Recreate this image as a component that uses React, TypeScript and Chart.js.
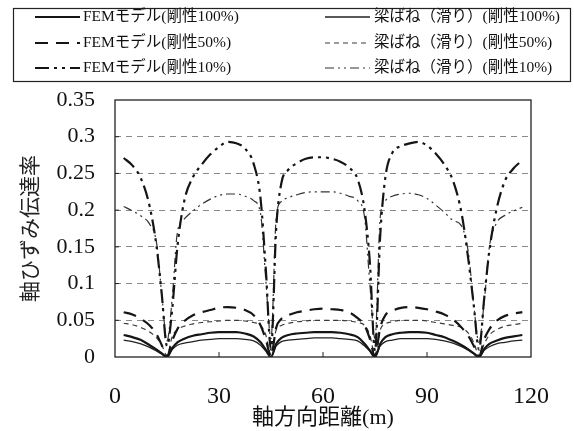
import { useEffect, useRef } from "react";
import { Chart, registerables } from "chart.js";

Chart.register(...registerables);

// axial distance (m)
const distance = [2.5, 5, 7.5, 10, 12, 13.5, 15, 16.5, 18, 20, 22.5, 25, 27.5, 30, 32.5, 35, 37.5, 40, 42, 43.5, 45, 46.5, 48, 50, 52.5, 55, 57.5, 60, 62.5, 65, 67.5, 70, 72, 73.5, 75, 76.5, 78, 80, 82.5, 85, 87.5, 90, 92.5, 95, 97.5, 100, 102, 103.5, 105, 106.5, 108, 110, 112.5, 115, 117.5];

const fem100 = [0.030, 0.027, 0.023, 0.016, 0.010, 0.005, 0.000, 0.012, 0.020, 0.025, 0.029, 0.031, 0.033, 0.034, 0.034, 0.034, 0.032, 0.028, 0.020, 0.010, 0.000, 0.018, 0.026, 0.030, 0.032, 0.033, 0.034, 0.034, 0.034, 0.033, 0.031, 0.027, 0.018, 0.009, 0.000, 0.018, 0.027, 0.031, 0.033, 0.034, 0.034, 0.033, 0.030, 0.027, 0.022, 0.016, 0.010, 0.005, 0.000, 0.011, 0.018, 0.022, 0.026, 0.028, 0.030];
const fem50 = [0.061, 0.058, 0.052, 0.043, 0.031, 0.016, 0.001, 0.022, 0.038, 0.049, 0.057, 0.061, 0.064, 0.067, 0.068, 0.067, 0.064, 0.057, 0.043, 0.024, 0.001, 0.040, 0.052, 0.057, 0.061, 0.063, 0.065, 0.066, 0.065, 0.064, 0.061, 0.053, 0.043, 0.025, 0.001, 0.040, 0.057, 0.063, 0.067, 0.068, 0.067, 0.065, 0.062, 0.058, 0.051, 0.040, 0.028, 0.015, 0.001, 0.024, 0.038, 0.049, 0.056, 0.059, 0.061];
const fem10 = [0.271, 0.261, 0.243, 0.205, 0.150, 0.085, 0.015, 0.065, 0.150, 0.213, 0.245, 0.262, 0.276, 0.286, 0.293, 0.291, 0.284, 0.263, 0.215, 0.120, 0.010, 0.175, 0.237, 0.255, 0.264, 0.270, 0.272, 0.272, 0.270, 0.266, 0.258, 0.242, 0.200, 0.130, 0.008, 0.165, 0.245, 0.278, 0.287, 0.291, 0.293, 0.288, 0.277, 0.262, 0.240, 0.195, 0.130, 0.070, 0.010, 0.080, 0.145, 0.200, 0.240, 0.257, 0.268];
const beam100 = [0.023, 0.021, 0.018, 0.013, 0.008, 0.004, 0.000, 0.010, 0.016, 0.019, 0.021, 0.023, 0.024, 0.025, 0.025, 0.025, 0.024, 0.022, 0.016, 0.008, 0.000, 0.015, 0.021, 0.023, 0.024, 0.025, 0.026, 0.026, 0.026, 0.025, 0.024, 0.022, 0.015, 0.008, 0.000, 0.015, 0.021, 0.023, 0.025, 0.025, 0.025, 0.025, 0.024, 0.022, 0.019, 0.014, 0.009, 0.004, 0.000, 0.009, 0.014, 0.018, 0.020, 0.022, 0.023];
const beam50 = [0.046, 0.044, 0.040, 0.034, 0.026, 0.016, 0.002, 0.028, 0.037, 0.042, 0.045, 0.047, 0.048, 0.049, 0.050, 0.050, 0.049, 0.047, 0.043, 0.030, 0.003, 0.037, 0.043, 0.046, 0.048, 0.049, 0.050, 0.050, 0.050, 0.050, 0.049, 0.047, 0.043, 0.030, 0.003, 0.037, 0.045, 0.048, 0.050, 0.050, 0.050, 0.049, 0.047, 0.045, 0.043, 0.040, 0.032, 0.020, 0.002, 0.018, 0.030, 0.037, 0.042, 0.044, 0.046];
const beam10 = [0.205, 0.199, 0.192, 0.181, 0.155, 0.085, 0.022, 0.080, 0.170, 0.188, 0.199, 0.208, 0.215, 0.220, 0.222, 0.222, 0.219, 0.213, 0.195, 0.105, 0.025, 0.190, 0.212, 0.217, 0.221, 0.224, 0.225, 0.225, 0.225, 0.223, 0.219, 0.213, 0.190, 0.100, 0.025, 0.190, 0.213, 0.219, 0.222, 0.223, 0.221, 0.216, 0.207, 0.197, 0.186, 0.178, 0.140, 0.070, 0.020, 0.075, 0.150, 0.182, 0.193, 0.199, 0.204];

const seriesLabels = [
  "FEMモデル(剛性100%)",
  "FEMモデル(剛性50%)",
  "FEMモデル(剛性10%)",
  "梁ばね（滑り）(剛性100%)",
  "梁ばね（滑り）(剛性50%)",
  "梁ばね（滑り）(剛性10%)",
];
const seriesValues = [fem100, fem50, fem10, beam100, beam50, beam10];
const seriesDash = [[], [13, 8], [14, 5, 3, 5, 3, 5], [], [5, 4], [9, 4, 2, 4, 2, 4]];
const seriesWidth = [2.2, 2.2, 2.2, 1.3, 1.2, 1.2];
const seriesColor = ["#151515", "#151515", "#151515", "#222222", "#3a3a3a", "#333333"];

const xTitle = "軸方向距離(m)";
const yTitle = "軸ひずみ伝達率";
const xMin = 0, xMax = 120, xStep = 30;
const yMin = 0, yMax = 0.35, yStep = 0.05;

const FONT = "'Liberation Serif', 'Noto Sans CJK JP', serif";

const framePlugin = {
  id: "frame",
  afterDatasetsDraw(chart: any) {
    const { ctx, chartArea } = chart;
    const xs = chart.scales.x;
    const ys = chart.scales.y;
    ctx.save();
    ctx.strokeStyle = "#222";
    ctx.lineWidth = 1.3;
    ctx.setLineDash([]);
    ctx.strokeRect(chartArea.left, chartArea.top, chartArea.right - chartArea.left, chartArea.bottom - chartArea.top);
    ctx.lineWidth = 1;
    for (let v = xMin + xStep; v < xMax; v += xStep) {
      const px = xs.getPixelForValue(v);
      ctx.beginPath();
      ctx.moveTo(px, chartArea.bottom);
      ctx.lineTo(px, chartArea.bottom - 5);
      ctx.stroke();
    }
    for (let v = yMin + yStep; v < yMax - 1e-9; v += yStep) {
      const py = ys.getPixelForValue(v);
      ctx.beginPath();
      ctx.moveTo(chartArea.left, py);
      ctx.lineTo(chartArea.left + 4, py);
      ctx.stroke();
    }
    ctx.restore();
  },
};

const legendPlugin = {
  id: "boxLegend",
  afterDraw(chart: any) {
    const { ctx } = chart;
    ctx.save();
    ctx.strokeStyle = "#222";
    ctx.lineWidth = 1.2;
    ctx.setLineDash([]);
    ctx.strokeRect(13.5, 8.5, 557, 73);
    const rowsY = [17, 43, 68];
    const colLine = [[35, 80], [325, 370]];
    const colText = [83, 374];
    ctx.font = `15.5px ${FONT}`;
    ctx.textBaseline = "middle";
    ctx.fillStyle = "#111";
    chart.data.datasets.forEach((ds: any, i: number) => {
      const col = i < 3 ? 0 : 1;
      const y = rowsY[i % 3];
      ctx.strokeStyle = ds.borderColor;
      ctx.lineWidth = ds.borderWidth;
      ctx.setLineDash(ds.borderDash || []);
      ctx.beginPath();
      ctx.moveTo(colLine[col][0], y);
      ctx.lineTo(colLine[col][1], y);
      ctx.stroke();
      ctx.setLineDash([]);
      ctx.fillText(ds.label, colText[col], y);
    });
    ctx.restore();
  },
};

export default function App() {
  const ref = useRef<HTMLCanvasElement | null>(null);

  useEffect(() => {
    document.body.style.margin = "0";
    const canvas = ref.current;
    if (!canvas) return;
    const datasets = seriesLabels.map((label, i) => ({
      label,
      data: distance.map((d, k) => ({ x: d, y: seriesValues[i][k] })),
      borderColor: seriesColor[i],
      borderWidth: seriesWidth[i],
      borderDash: seriesDash[i],
      pointRadius: 0,
      fill: false,
      cubicInterpolationMode: "monotone" as const,
    }));
    const chart = new Chart(canvas, {
      type: "line",
      data: { datasets },
      plugins: [framePlugin, legendPlugin],
      options: {
        animation: false,
        responsive: false,
        layout: { padding: { top: 100, right: 21, left: 0, bottom: 0 } },
        plugins: { legend: { display: false }, tooltip: { enabled: false } },
        scales: {
          x: {
            type: "linear",
            min: xMin,
            max: xMax,
            afterFit: (s: any) => { s.height = 74; },
            ticks: {
              stepSize: xStep,
              padding: 25,
              color: "#111",
              font: { family: FONT, size: 24 },
              maxRotation: 0,
            },
            grid: { display: false, drawTicks: false },
            border: { display: false },
            title: {
              display: true,
              text: xTitle,
              color: "#111",
              font: { family: FONT, size: 22 },
              padding: { top: 0, bottom: 0 },
            },
          },
          y: {
            type: "linear",
            min: yMin,
            max: yMax,
            afterFit: (s: any) => { s.width = 115; },
            ticks: {
              stepSize: yStep,
              padding: 20,
              color: "#111",
              font: { family: FONT, size: 22 },
              callback: (v: any) => String(Number(Number(v).toFixed(2))),
            },
            grid: {
              drawTicks: false,
              lineWidth: 1,
              color: (c: any) => {
                const v = c.tick ? c.tick.value : 0;
                return v <= 1e-9 || v >= yMax - 1e-9 ? "rgba(0,0,0,0)" : "#8a8a8a";
              },
            },
            border: { display: false, dash: [6, 5] },
            title: {
              display: true,
              text: yTitle,
              color: "#222",
              font: { family: FONT, size: 21 },
              padding: { top: 19, bottom: 0 },
            },
          },
        },
      },
    });
    return () => chart.destroy();
  }, []);

  return (
    <div style={{ width: 574, height: 431 }}>
      <canvas ref={ref} width={574} height={431} style={{ display: "block" }} />
    </div>
  );
}
